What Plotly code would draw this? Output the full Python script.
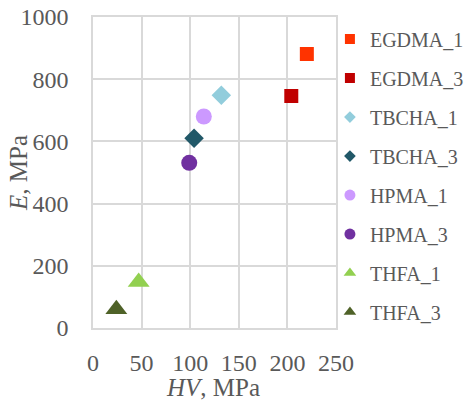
import plotly.graph_objects as go

names = ["EGDMA_1", "EGDMA_3", "TBCHA_1", "TBCHA_3", "HPMA_1", "HPMA_3", "THFA_1", "THFA_3"]
hv = [220, 204, 132, 104, 114, 99, 47, 24]
e_mod = [881, 746, 748, 610, 680, 531, 148, 60]
colors = ["#FF3300", "#C00000", "#92CDDC", "#215868", "#CC99FF", "#7030A0", "#92D050", "#4F6228"]
symbols = ["square", "square", "diamond", "diamond", "circle", "circle", "triangle-up", "triangle-up"]
sizes = [14, 14, 15, 15, 16, 16, 19, 19]
leg_sizes = [10, 10, 9, 9, 11, 11, 11, 11]

FONT = "Liberation Serif"
GRAY = "#595959"
GRID = "#D9D9D9"

fig = go.Figure()
for n, x, y, c, s, sz in zip(names, hv, e_mod, colors, symbols, sizes):
    fig.add_trace(go.Scatter(x=[x], y=[y], mode="markers", name=n, showlegend=False,
                             marker=dict(color=c, symbol=s, size=sz, line=dict(width=0))))
for n, c, s, sz in zip(names, colors, symbols, leg_sizes):
    fig.add_trace(go.Scatter(x=[None], y=[None], mode="markers", name=n, legendgroup=n,
                             marker=dict(color=c, symbol=s, size=sz, line=dict(width=0))))

fig.update_layout(
    width=471, height=403,
    margin=dict(l=93, r=135, t=17, b=75, autoexpand=False),
    paper_bgcolor="white", plot_bgcolor="white",
    font=dict(family=FONT, size=24, color=GRAY),
    legend=dict(x=0.975, xanchor="left", y=0.49, yanchor="middle",
                font=dict(family=FONT, size=20, color=GRAY), maxheight=400,
                itemwidth=30, tracegroupgap=10, bgcolor="rgba(0,0,0,0)"),
    xaxis=dict(range=[0, 250], tickvals=[0, 50, 100, 150, 200, 250], showgrid=True,
               gridcolor=GRID, gridwidth=1.5, showline=True, linecolor=GRID, linewidth=1.5,
               mirror=True, zeroline=False, ticks="", ticklabelstandoff=12,
               tickfont=dict(family=FONT, size=24, color=GRAY)),
    yaxis=dict(range=[0, 1000], tickvals=[0, 200, 400, 600, 800, 1000], showgrid=True,
               gridcolor=GRID, gridwidth=1.5, showline=True, linecolor=GRID, linewidth=1.5,
               mirror=True, zeroline=False, ticks="", ticklabelstandoff=18,
               tickfont=dict(family=FONT, size=24, color=GRAY)),
    annotations=[
        dict(text="<i>HV</i>, MPa", xref="paper", yref="paper", x=0.494, y=-0.19,
             xanchor="center", yanchor="middle", showarrow=False,
             font=dict(family=FONT, size=25, color=GRAY)),
        dict(text="<i>E</i>, MPa", xref="paper", yref="paper", x=-0.309, y=0.498,
             xanchor="center", yanchor="middle", textangle=-90, showarrow=False,
             font=dict(family=FONT, size=25, color=GRAY)),
    ],
)

fig.write_html("out.html")
